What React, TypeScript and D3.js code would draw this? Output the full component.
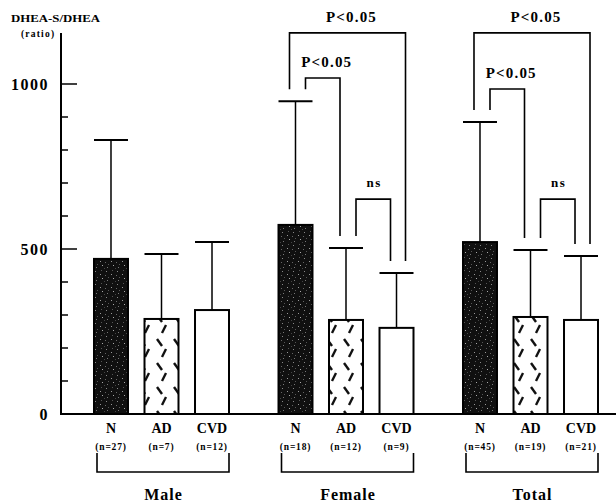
import React from "react";
import * as d3 from "d3";

// ---- data ----
const groups = ["Male", "Female", "Total"];
const categories = ["N", "AD", "CVD"];
const sampleSizes = [
  ["(n=27)", "(n=7)", "(n=12)"],
  ["(n=18)", "(n=12)", "(n=9)"],
  ["(n=45)", "(n=19)", "(n=21)"],
];
const meanValues = [
  [470, 288, 315],
  [573, 285, 261],
  [521, 294, 285],
];
const sdUpperValues = [
  [830, 485, 521],
  [948, 503, 427],
  [885, 497, 479],
];
const yTicks = [100, 200, 300, 400, 500, 600, 700, 800, 900, 1000];
const yTickLabels = [0, 500, 1000];
const compGroup = ["Female", "Female", "Female", "Total", "Total", "Total"];
const compFrom = ["N", "N", "AD", "N", "N", "AD"];
const compTo = ["CVD", "AD", "CVD", "CVD", "AD", "CVD"];
const compLabel = ["P<0.05", "P<0.05", "ns", "P<0.05", "P<0.05", "ns"];
const compLevel = [1155, 1018, 651, 1155, 985, 651];

const W = 616;
const H = 503;
const FONT = "'Liberation Serif', 'DejaVu Serif', serif";

export default function App() {
  const y = d3.scaleLinear().domain([0, 1000]).range([414, 84]);
  const xGroup = d3.scaleBand<string>().domain(groups).range([94, 94 + 3 * 184.5]).padding(0);
  const xCat = d3.scaleBand<string>().domain(categories).range([0, 135]).paddingInner(0.327).paddingOuter(0);
  const bw = xCat.bandwidth();
  const axisX = 61;
  const baseY = y(0);

  const barX = (g: string, c: string) => (xGroup(g) as number) + (xCat(c) as number);
  const barC = (g: string, c: string) => barX(g, c) + bw / 2;
  const gi = (g: string) => groups.indexOf(g);
  const ci = (c: string) => categories.indexOf(c);

  const fills = ["url(#stipple)", "url(#dashes)", "#fff"];

  return (
    <svg width={W} height={H} style={{ position: "absolute", left: 0, top: 0, background: "#fff" }} fontFamily={FONT}>
      <defs>
        <pattern id="stipple" patternUnits="userSpaceOnUse" width="11" height="13">
          <rect width="11" height="13" fill="#101010" />
          <rect x="1" y="1" width="1" height="1" fill="#999" />
          <rect x="6" y="2" width="1" height="1" fill="#666" />
          <rect x="3" y="5" width="1" height="1" fill="#aaa" />
          <rect x="8" y="7" width="1" height="1" fill="#777" />
          <rect x="2" y="10" width="1" height="1" fill="#555" />
          <rect x="7" y="11" width="1" height="1" fill="#888" />
          <rect x="5" y="8" width="1" height="1" fill="#444" />
          <rect x="9" y="4" width="1" height="1" fill="#555" />
        </pattern>
        <pattern id="dashes" patternUnits="userSpaceOnUse" width="17" height="24">
          <rect width="17" height="24" fill="#fff" />
          <line x1="4" y1="3" x2="9" y2="10" stroke="#111" strokeWidth="2.4" />
          <line x1="13" y1="13" x2="9" y2="21" stroke="#111" strokeWidth="2.4" />
        </pattern>
      </defs>

      {/* y axis label */}
      <text x={11} y={22} fontSize={10} fontWeight="bold" textLength={89} lengthAdjust="spacingAndGlyphs">DHEA-S/DHEA</text>
      <text x={21} y={37} fontSize={9.5} fontWeight="bold" letterSpacing={1.2}>(ratio)</text>

      {/* axes */}
      <line x1={axisX} x2={axisX} y1={33} y2={baseY + 1} stroke="#000" strokeWidth={2} />
      <line x1={axisX - 1} x2={W} y1={baseY} y2={baseY} stroke="#000" strokeWidth={2} />
      {yTicks.map((t) => (
        <line key={t} x1={axisX} x2={axisX + (t % 500 === 0 ? 16 : 7)} y1={y(t)} y2={y(t)} stroke="#000" strokeWidth={1.5} />
      ))}
      {yTickLabels.map((t) => (
        <text key={t} x={49} y={y(t)} dy="0.35em" textAnchor="end" fontSize={16} fontWeight="bold" letterSpacing={1.5}>
          {t}
        </text>
      ))}

      {/* bars + error bars */}
      {groups.map((g, i) =>
        categories.map((c, j) => {
          const x0 = barX(g, c);
          const cx = barC(g, c);
          const top = y(meanValues[i][j]);
          const et = y(sdUpperValues[i][j]);
          return (
            <g key={g + c}>
              <line x1={cx} x2={cx} y1={top} y2={et} stroke="#000" strokeWidth={1.5} />
              <line x1={x0} x2={x0 + bw} y1={et} y2={et} stroke="#000" strokeWidth={2} />
              <rect x={x0} y={top} width={bw} height={baseY - top} fill={fills[j]} stroke="#000" strokeWidth={2} />
            </g>
          );
        })
      )}

      {/* significance brackets */}
      {compGroup.map((g, k) => {
        const a = compFrom[k];
        const b = compTo[k];
        const outer = ci(b) - ci(a) > 1;
        const xa = barC(g, a) + (outer ? -6 : 10);
        const xb = barC(g, b) + (outer ? 9 : -6);
        const ya = y(sdUpperValues[gi(g)][ci(a)]) - 12;
        const yb = y(sdUpperValues[gi(g)][ci(b)]) - 12;
        const yt = y(compLevel[k]);
        const isNs = compLabel[k] === "ns";
        return (
          <g key={k}>
            <path d={`M${xa},${ya}V${yt}H${xb}V${yb}`} fill="none" stroke="#000" strokeWidth={1.6} />
            <text x={(xa + xb) / 2 + (isNs ? 1 : 4)} y={yt - (isNs ? 12 : 11)} textAnchor="middle" fontSize={isNs ? 13 : 15} fontWeight="bold" letterSpacing={isNs ? 1.5 : 1.2}>
              {compLabel[k]}
            </text>
          </g>
        );
      })}

      {/* category labels */}
      {groups.map((g, i) => (
        <g key={g}>
          {categories.map((c, j) => (
            <g key={c}>
              <text x={barC(g, c)} y={433} textAnchor="middle" fontSize={14} fontWeight="bold">{c}</text>
              <text x={barC(g, c)} y={450} textAnchor="middle" fontSize={9.5} fontWeight="bold" letterSpacing={0.8}>{sampleSizes[i][j]}</text>
            </g>
          ))}
          <path
            d={`M${barX(g, "N") + 3},453V472H${barX(g, "CVD") + bw}V453`}
            fill="none"
            stroke="#000"
            strokeWidth={1.6}
          />
          <text x={barC(g, "AD") + 2} y={500} textAnchor="middle" fontSize={16} fontWeight="bold" letterSpacing={1}>{g}</text>
        </g>
      ))}
    </svg>
  );
}
